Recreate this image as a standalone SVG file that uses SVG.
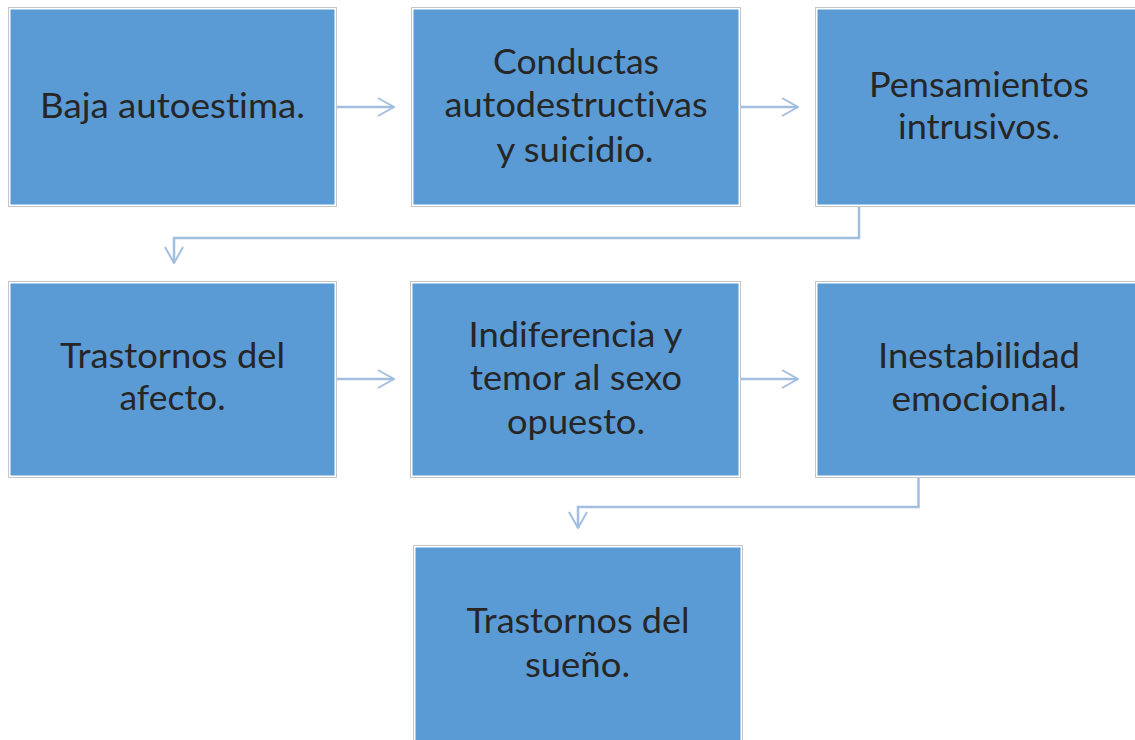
<svg xmlns="http://www.w3.org/2000/svg" width="1135" height="740" viewBox="0 0 1135 740">
<defs>
<style>
.frame{fill:#ffffff;stroke:#c6c6c6;stroke-width:1}
.box{fill:#5b9bd5}
.t{font-family:Lato,"Liberation Sans",sans-serif;font-size:34px;fill:#262626;text-anchor:middle;font-variant-ligatures:none;font-feature-settings:"liga" 0}
.c{fill:none;stroke:#a2bfe1;stroke-width:2.5}
</style>
<marker id="ar" markerUnits="userSpaceOnUse" viewBox="0 0 18 20" markerWidth="18" markerHeight="20" refX="17" refY="10" orient="auto">
<path d="M1,1 L17,10 L1,19" fill="none" stroke="#a2bfe1" stroke-width="2"/>
</marker>
</defs>
<rect width="1135" height="740" fill="#ffffff"/>
<g id="connectors">
<path class="c" d="M337,107 H394" marker-end="url(#ar)"/>
<path class="c" d="M741,107 H798" marker-end="url(#ar)"/>
<path class="c" d="M859,207 V238 H174 V263" marker-end="url(#ar)"/>
<path class="c" d="M337,379 H394" marker-end="url(#ar)"/>
<path class="c" d="M741,379 H798" marker-end="url(#ar)"/>
<path class="c" d="M918.5,478 V507 H578 V528" marker-end="url(#ar)"/>
</g>
<g id="n1">
<rect class="frame" x="8.5" y="7.5" width="328" height="199"/>
<rect class="box" x="10.5" y="9.5" width="324" height="195"/>
<text class="t" x="172.5" y="118" textLength="265" lengthAdjust="spacingAndGlyphs">Baja autoestima.</text>
</g>
<g id="n2">
<rect class="frame" x="411.5" y="7.5" width="329" height="199"/>
<rect class="box" x="413.5" y="9.5" width="325" height="195"/>
<text class="t" x="576" y="74" textLength="166" lengthAdjust="spacingAndGlyphs">Conductas</text>
<text class="t" x="576" y="117" textLength="263" lengthAdjust="spacingAndGlyphs">autodestructivas</text>
<text class="t" x="575" y="162" textLength="157" lengthAdjust="spacingAndGlyphs">y suicidio.</text>
</g>
<g id="n3">
<rect class="frame" x="815.5" y="7.5" width="329" height="199"/>
<rect class="box" x="817.5" y="9.5" width="325" height="195"/>
<text class="t" x="979" y="97" textLength="220" lengthAdjust="spacingAndGlyphs">Pensamientos</text>
<text class="t" x="979" y="139" textLength="162" lengthAdjust="spacingAndGlyphs">intrusivos.</text>
</g>
<g id="n4">
<rect class="frame" x="8.5" y="281.5" width="328" height="196"/>
<rect class="box" x="10.5" y="283.5" width="324" height="192"/>
<text class="t" x="172.5" y="368" textLength="225" lengthAdjust="spacingAndGlyphs">Trastornos del</text>
<text class="t" x="172.5" y="410" textLength="106" lengthAdjust="spacingAndGlyphs">afecto.</text>
</g>
<g id="n5">
<rect class="frame" x="410.5" y="281.5" width="330" height="196"/>
<rect class="box" x="412.5" y="283.5" width="326" height="192"/>
<text class="t" x="575.5" y="347" textLength="214" lengthAdjust="spacingAndGlyphs">Indiferencia y</text>
<text class="t" x="576" y="390" textLength="212" lengthAdjust="spacingAndGlyphs">temor al sexo</text>
<text class="t" x="576" y="434" textLength="138" lengthAdjust="spacingAndGlyphs">opuesto.</text>
</g>
<g id="n6">
<rect class="frame" x="815.5" y="281.5" width="329" height="196"/>
<rect class="box" x="817.5" y="283.5" width="325" height="192"/>
<text class="t" x="979" y="368" textLength="202" lengthAdjust="spacingAndGlyphs">Inestabilidad</text>
<text class="t" x="979" y="411" textLength="175" lengthAdjust="spacingAndGlyphs">emocional.</text>
</g>
<g id="n7">
<rect class="frame" x="413.5" y="545.5" width="329" height="200"/>
<rect class="box" x="415.5" y="547.5" width="325" height="196"/>
<text class="t" x="578" y="633" textLength="223" lengthAdjust="spacingAndGlyphs">Trastornos del</text>
<text class="t" x="577.5" y="677" textLength="105" lengthAdjust="spacingAndGlyphs">sueño.</text>
</g>
</svg>
